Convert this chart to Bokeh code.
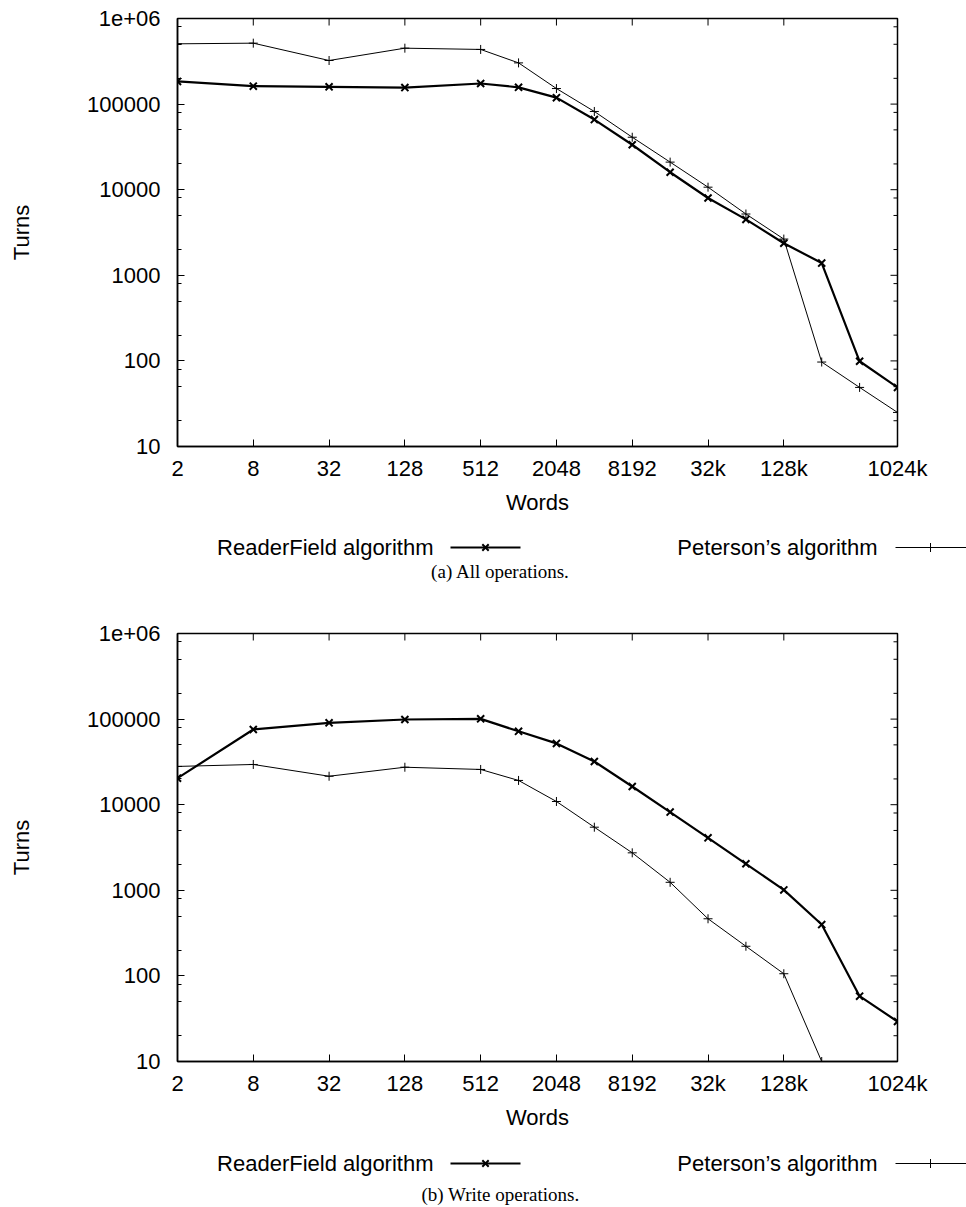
import math
from bokeh.plotting import figure
from bokeh.models import FixedTicker, Range1d
from bokeh.layouts import column
from bokeh.embed import file_html
from bokeh.resources import INLINE
from bokeh.core.properties import value

# ---------------- data ----------------
words = [2, 8, 32, 128, 512, 1024, 2048, 4096, 8192, 16384, 32768, 65536,
         131072, 262144, 524288, 1048576]

all_readerfield = [184000, 162000, 159000, 156000, 174000, 157000, 119000, 66000,
                   33500, 16000, 8000, 4500, 2370, 1390, 99, 49]
all_peterson = [506000, 515000, 323000, 450000, 435000, 303000, 152000, 82000,
                41000, 21000, 10700, 5200, 2650, 97, 49, 25]

write_readerfield = [20400, 75600, 90400, 98900, 100700, 72000, 52000, 32000,
                     16300, 8200, 4100, 2040, 1010, 398, 58, 29.3]
write_peterson_words = words[:14]
write_peterson = [28000, 29500, 21500, 27400, 25800, 19200, 10900, 5460,
                  2740, 1240, 465, 222, 106, 10]

x_tick_values = [2, 8, 32, 128, 512, 2048, 8192, 32768, 131072, 1048576]
x_tick_labels = ["2", "8", "32", "128", "512", "2048", "8192", "32k", "128k", "1024k"]
y_tick_values = [10, 100, 1000, 10000, 100000, 1000000]
y_tick_labels = ["10", "100", "1000", "10000", "100000", "1e+06"]
y_minor_values = [m * d for d in [10, 100, 1000, 10000, 100000] for m in (2, 5, 8)]

series_names = ["ReaderField algorithm", "Peterson\u2019s algorithm"]
captions = ["(a) All operations.", "(b) Write operations."]

FONT = "Liberation Sans"
FS = "22px"
W = 966
X_MIN, X_MAX = 2, 1048576
Y_MIN, Y_MAX = 10, 1e6


def style_axis(ax):
    ax.axis_line_color = "black"
    ax.axis_line_width = 1.5
    ax.major_tick_in = 7
    ax.major_tick_out = 0
    ax.minor_tick_in = 4
    ax.minor_tick_out = 0
    ax.major_tick_line_color = "black"
    ax.minor_tick_line_color = "black"
    ax.major_label_text_font = FONT
    ax.major_label_text_font_size = FS
    ax.major_label_text_color = "black"
    ax.axis_label_text_font = FONT
    ax.axis_label_text_font_size = FS
    ax.axis_label_text_font_style = "normal"
    ax.axis_label_text_color = "black"


def make_panel(rf, pt, pt_words, top_border, height):
    bottom = height - top_border - 428
    p = figure(width=W, height=height, x_axis_type="log", y_axis_type="log",
               x_range=Range1d(X_MIN, X_MAX), y_range=Range1d(Y_MIN, Y_MAX),
               output_backend="svg", toolbar_location=None,
               min_border_left=177, min_border_right=W - 897,
               min_border_top=top_border, min_border_bottom=bottom,
               background_fill_color="white", border_fill_color="white")
    p.frame_align = False
    p.grid.visible = False
    p.outline_line_color = "black"
    p.outline_line_width = 1.5

    xa = p.xaxis[0]
    xa.ticker = FixedTicker(ticks=x_tick_values, minor_ticks=[])
    xa.major_label_overrides = dict(zip(x_tick_values, x_tick_labels))
    xa.axis_label = "Words"
    xa.major_label_standoff = 9
    xa.axis_label_standoff = 6
    style_axis(xa)

    ya = p.yaxis[0]
    ya.ticker = FixedTicker(ticks=y_tick_values, minor_ticks=y_minor_values)
    ya.major_label_overrides = dict(zip(y_tick_values, y_tick_labels))
    ya.axis_label = "Turns"
    ya.major_label_standoff = 17
    ya.axis_label_standoff = 50
    style_axis(ya)

    # mirrored inward ticks on the top and right borders
    p.ray(x=x_tick_values, y=[Y_MAX] * len(x_tick_values), length=7,
          length_units="screen", angle=-math.pi / 2, line_color="black", line_width=1)
    p.ray(x=[X_MAX] * len(y_tick_values), y=y_tick_values, length=7,
          length_units="screen", angle=math.pi, line_color="black", line_width=1)
    p.ray(x=[X_MAX] * len(y_minor_values), y=y_minor_values, length=4,
          length_units="screen", angle=math.pi, line_color="black", line_width=1)

    p.line(pt_words, pt, line_color="black", line_width=1)
    p.scatter(pt_words, pt, marker="cross", size=9, line_color="black", line_width=1)
    p.line(words, rf, line_color="black", line_width=2.2)
    p.scatter(words, rf, marker="x", size=10, line_color="black", line_width=2)
    return p


def make_legend(height, text_y, caption_y, caption):
    q = figure(width=W, height=height, x_range=Range1d(0, W), y_range=Range1d(0, height),
               output_backend="svg", toolbar_location=None, min_border=0,
               outline_line_color=None, x_axis_location=None, y_axis_location=None,
               background_fill_color="white", border_fill_color="white")
    q.frame_align = False
    q.grid.visible = False
    # legend texts (right-justified, gnuplot style) followed by samples
    q.text(x=[433, 877], y=[text_y, text_y], text=series_names,
           text_font=value(FONT), text_font_size=FS, text_align="right",
           text_baseline="middle", text_color="black")
    q.segment(x0=[450], y0=[text_y], x1=[520], y1=[text_y], line_color="black", line_width=2.2)
    q.scatter(x=[485], y=[text_y], marker="x", size=9, line_color="black", line_width=2)
    q.segment(x0=[895], y0=[text_y], x1=[966], y1=[text_y], line_color="black", line_width=1)
    q.scatter(x=[930], y=[text_y], marker="cross", size=9, line_color="black", line_width=1)
    q.text(x=[500], y=[caption_y], text=[caption], text_font=value("Liberation Serif"),
           text_font_size="19px", text_align="center", text_baseline="middle",
           text_color="black")
    return q


pa = make_panel(all_readerfield, all_peterson, words, 18, 528)
la = make_legend(64, 45, 21, captions[0])
pb = make_panel(write_readerfield, write_peterson, write_peterson_words, 41, 544)
lb = make_legend(71, 44, 13, captions[1])

layout = column(pa, la, pb, lb, spacing=0)

with open("out.html", "w") as f:
    f.write(file_html(layout, INLINE))
